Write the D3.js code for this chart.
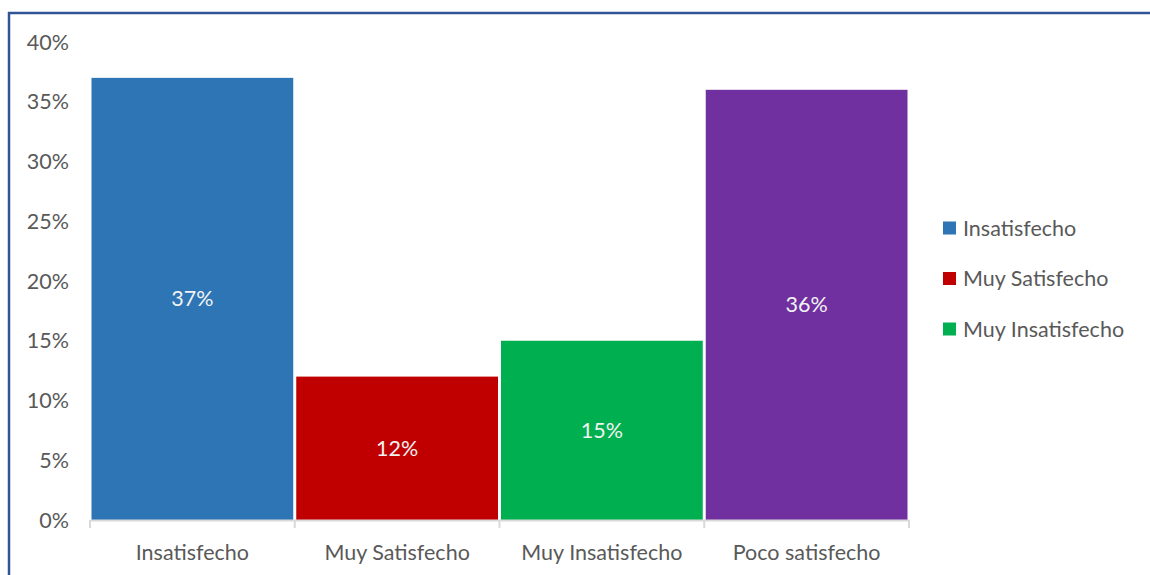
<!DOCTYPE html>
<html>
<head>
<meta charset="utf-8">
<script src="https://cdn.jsdelivr.net/npm/d3@7"></script>
<style>
  html, body { margin: 0; padding: 0; background: #fff; }
  svg { display: block; font-family: Lato, "Open Sans", sans-serif; }
</style>
</head>
<body>
<svg id="chart" width="1150" height="575"></svg>
<script>
// Satisfaction survey results (share of respondents)
const categories = ["Insatisfecho", "Muy Satisfecho", "Muy Insatisfecho", "Poco satisfecho"];
const values = [37, 12, 15, 36];
const colors = ["#2E75B6", "#C00000", "#00B050", "#7030A0"];
const legendItems = ["Insatisfecho", "Muy Satisfecho", "Muy Insatisfecho"];
const yTicks = [0, 5, 10, 15, 20, 25, 30, 35, 40];

const svg = d3.select("#chart");
const fontSize = 21.5;

// frame lines along top and left
svg.append("line").attr("x1", 8).attr("x2", 1150).attr("y1", 13).attr("y2", 13)
  .attr("stroke", "#2F5597").attr("stroke-width", 2.5);
svg.append("line").attr("x1", 9).attr("x2", 9).attr("y1", 12).attr("y2", 575)
  .attr("stroke", "#2F5597").attr("stroke-width", 2.5);

const x = d3.scaleBand().domain(categories).range([90, 909]).paddingInner(0).paddingOuter(0);
const y = d3.scaleLinear().domain([0, 40]).range([520, 42]);

// y tick labels
svg.append("g").selectAll("text").data(yTicks).join("text")
  .attr("x", 69).attr("y", d => y(d)).attr("dy", "0.35em")
  .attr("text-anchor", "end").attr("fill", "#595959").attr("font-size", fontSize)
  .text(d => d + "%");

// bars
svg.append("g").selectAll("rect").data(values).join("rect")
  .attr("x", (d, i) => x(categories[i]) + 1.5)
  .attr("width", x.bandwidth() - 3)
  .attr("y", d => y(d))
  .attr("height", d => y(0) - y(d))
  .attr("fill", (d, i) => colors[i]);

// x axis line and ticks
const axis = svg.append("g").attr("transform", "translate(0,520)")
  .call(d3.axisBottom(x).tickSize(0).tickFormat(""));
axis.select(".domain").attr("stroke", "#D9D9D9").attr("stroke-width", 2);
const bounds = categories.map(c => x(c)).concat([x.range()[1]]);
svg.append("g").selectAll("line").data(bounds).join("line")
  .attr("x1", d => d).attr("x2", d => d).attr("y1", 520).attr("y2", 528)
  .attr("stroke", "#D9D9D9").attr("stroke-width", 2);

// category labels
svg.append("g").selectAll("text").data(categories).join("text")
  .attr("x", d => x(d) + x.bandwidth() / 2).attr("y", 552).attr("dy", "0.35em")
  .attr("text-anchor", "middle").attr("fill", "#595959").attr("font-size", fontSize)
  .text(d => d);

// value labels
svg.append("g").selectAll("text").data(values).join("text")
  .attr("x", (d, i) => x(categories[i]) + x.bandwidth() / 2)
  .attr("y", d => y(d / 2)).attr("dy", "0.35em")
  .attr("text-anchor", "middle").attr("fill", "#F2F2F2").attr("font-size", fontSize)
  .text(d => d + "%");

// legend
const legend = svg.append("g").selectAll("g").data(legendItems).join("g")
  .attr("transform", (d, i) => `translate(943, ${228 + i * 50.5})`);
legend.append("rect").attr("x", 0).attr("y", -6.5).attr("width", 13).attr("height", 13)
  .attr("fill", (d, i) => colors[i]);
legend.append("text").attr("x", 20).attr("y", 0).attr("dy", "0.35em")
  .attr("fill", "#595959").attr("font-size", fontSize).text(d => d);
</script>
</body>
</html>
